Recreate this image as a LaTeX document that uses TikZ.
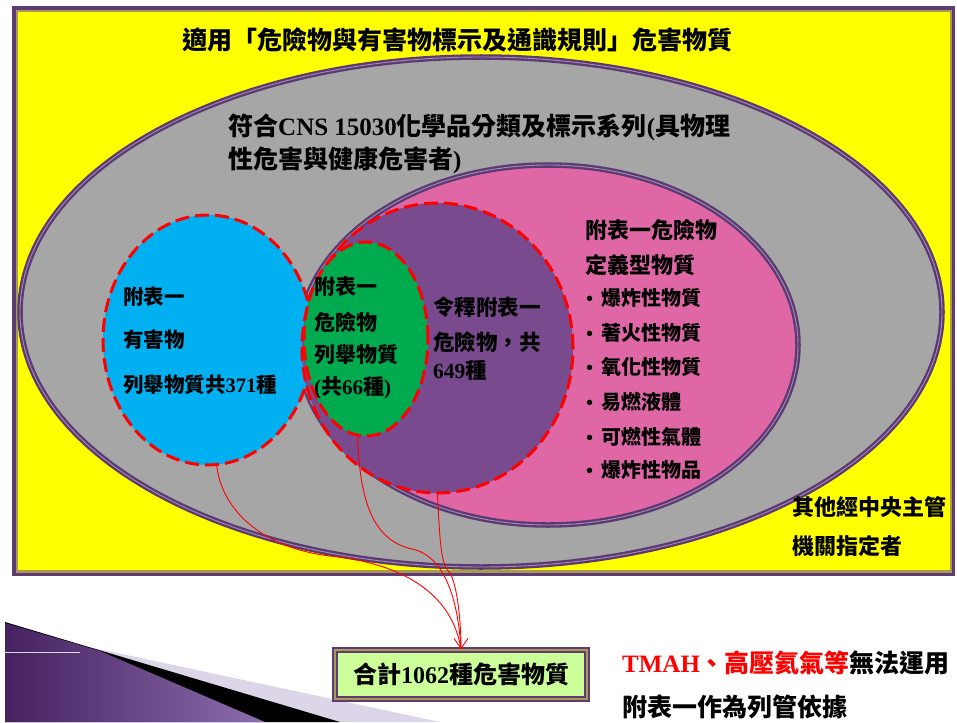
\documentclass[tikz,border=0pt]{standalone}
\usepackage{fontspec}
\setmainfont{Liberation Serif}
\newfontfamily\cjk{Noto Sans CJK TC}
\usetikzlibrary{shapes.geometric,arrows.meta}
\definecolor{framepurple}{HTML}{5E3C73}
\definecolor{khaki}{HTML}{A69A55}
\definecolor{yel}{HTML}{FFFF00}
\definecolor{grayc}{HTML}{A6A6A6}
\definecolor{pinkc}{HTML}{E067A6}
\definecolor{violetc}{HTML}{794A8D}
\definecolor{greenc}{HTML}{00AA4E}
\definecolor{bluec}{HTML}{00B0F0}
\definecolor{boxgreen}{HTML}{CCFF99}
\definecolor{ellbord}{HTML}{5B3A72}
\definecolor{ellgap}{HTML}{A48BB8}
\definecolor{redc}{HTML}{FF0000}
\definecolor{wedgedark}{HTML}{45215F}
\definecolor{wedgelight}{HTML}{8D6DAD}
\definecolor{lavc}{HTML}{DDD5E8}
\newcommand\zh[1]{{\cjk #1}}
\newcommand\setfs[1]{\fontsize{#1}{#1}\selectfont}
\tikzset{
  txt/.style={anchor=west, inner sep=0pt, font=\bfseries},
  bigell/.style={ellipse, inner sep=0pt, draw=ellbord, double=ellgap, double distance=0.9pt, line width=2.3pt},
  reddash/.style={draw=redc, line width=3pt, dash pattern=on 14pt off 6pt},
  setell/.style={ellipse, inner sep=0pt},
  conn/.style={draw=redc, line width=0.9pt}
}
\begin{document}
\begin{tikzpicture}[x=1pt,y=-1pt]
\useasboundingbox (0,0) rectangle (957,722);
% frame
\fill[framepurple] (12,6) rectangle (955,576);
\fill[khaki] (15.5,10) rectangle (951.5,572.5);
\fill[yel] (18,12.5) rectangle (949.5,570);
% ellipses
\node[bigell, fill=grayc, minimum width=922pt, minimum height=510pt] (cns) at (481,312) {};
\node[bigell, fill=pinkc, minimum width=500pt, minimum height=360pt] (pink) at (548,345) {};
\node[setell, fill=bluec, reddash, minimum width=210pt, minimum height=250pt] (blue) at (208,340) {};
\node[setell, fill=violetc, reddash, minimum width=271pt, minimum height=290pt] (purple) at (437.5,348) {};
\node[setell, fill=greenc, reddash, minimum width=124pt, minimum height=194pt] (green) at (366,339) {};
% texts
\node[txt, anchor=center] (title) at (457,40) {\setfs{25}\zh{適用「危險物與有害物標示及通識規則」危害物質}};
\node[txt] (cns1) at (228,127) {\setfs{25}\zh{符合}CNS 15030\zh{化學品分類及標示系列}(\zh{具物理}};
\node[txt] (cns2) at (228,160) {\setfs{25}\zh{性危害與健康危害者})};
\node[txt] (b1) at (123,297) {\setfs{20.5}\zh{附表一}};
\node[txt] (b2) at (123,340) {\setfs{20.5}\zh{有害物}};
\node[txt] (b3) at (123,385) {\setfs{20.5}\zh{列舉物質共}371\zh{種}};
\node[txt] (g1) at (314,287) {\setfs{21}\zh{附表一}};
\node[txt] (g2) at (314,322) {\setfs{21}\zh{危險物}};
\node[txt] (g3) at (314,355) {\setfs{21}\zh{列舉物質}};
\node[txt] (g4) at (314,388) {\setfs{21}(\zh{共}66\zh{種})};
\node[txt] (v1) at (433,307) {\setfs{21.5}\zh{令釋附表一}};
\node[txt] (v2) at (433,342) {\setfs{21.5}\zh{危險物，共}};
\node[txt] (v3) at (433,370) {\setfs{21.5}649\zh{種}};
\node[txt] (p1) at (585,230) {\setfs{22}\zh{附表一危險物}};
\node[txt] (p2) at (585,265) {\setfs{22}\zh{定義型物質}};
\node[txt] (p3) at (586,298) {\setfs{20}•\hspace{8pt}\zh{爆炸性物質}};
\node[txt] (p4) at (586,333) {\setfs{20}•\hspace{8pt}\zh{著火性物質}};
\node[txt] (p5) at (586,367) {\setfs{20}•\hspace{8pt}\zh{氧化性物質}};
\node[txt] (p6) at (586,402) {\setfs{20}•\hspace{8pt}\zh{易燃液體}};
\node[txt] (p7) at (586,437) {\setfs{20}•\hspace{8pt}\zh{可燃性氣體}};
\node[txt] (p8) at (586,470) {\setfs{20}•\hspace{8pt}\zh{爆炸性物品}};
\node[txt] (o1) at (792,507) {\setfs{22}\zh{其他經中央主管}};
\node[txt] (o2) at (792,546) {\setfs{22}\zh{機關指定者}};
% wedge decoration
\fill[lavc] (5,622) -- (80,645) -- (440,722) -- (5,722) -- cycle;
\fill[black] (5,622) -- (340,722) -- (5,722) -- cycle;
\shade[left color=wedgedark, right color=wedgelight] (5,623) -- (100,651) -- (265,722) -- (5,722) -- cycle;
\draw[lavc, line width=0.8pt] (5,652) -- (80,652);
% total box
\node[draw=framepurple, double=khaki, double distance=2.5pt, line width=1.6pt, fill=boxgreen,
  minimum width=252pt, minimum height=49pt, inner sep=0pt, font=\bfseries] (total) at (461,674.5)
  {\setfs{24}\zh{合計}1062\zh{種危害物質}};
% connectors
\draw[conn] (blue.-86) .. controls (222,510) and (262,548) .. (330,556)
  .. controls (400,563) and (452,592) .. (total.north);
\draw[conn] (green.-95) .. controls (360,500) and (372,540) .. (412,549)
  .. controls (445,556) and (458,600) .. (total.north);
\draw[conn, -{Straight Barb[length=10pt,width=14pt]}] (purple.south) .. controls (440,545) and (441,565) .. (450,573)
  .. controls (457,585) and (461,620) .. (total.north);
% bottom right note
\node[txt] (n1) at (622,663) {\setfs{25}\color{redc}TMAH\zh{、高壓氦氣等}\color{black}\zh{無法運用}};
\node[txt] (n2) at (622,707) {\setfs{25}\zh{附表一作為列管依據}};
\end{tikzpicture}
\end{document}
